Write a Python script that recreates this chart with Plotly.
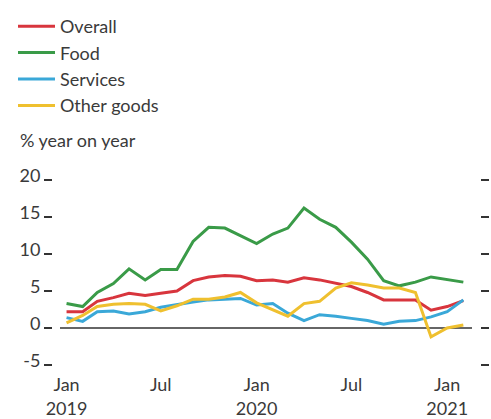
import plotly.graph_objects as go

# Monthly observations, Jan 2019 - Feb 2021
months = [
    "2019-01-01", "2019-02-01", "2019-03-01", "2019-04-01", "2019-05-01", "2019-06-01",
    "2019-07-01", "2019-08-01", "2019-09-01", "2019-10-01", "2019-11-01", "2019-12-01",
    "2020-01-01", "2020-02-01", "2020-03-01", "2020-04-01", "2020-05-01", "2020-06-01",
    "2020-07-01", "2020-08-01", "2020-09-01", "2020-10-01", "2020-11-01", "2020-12-01",
    "2021-01-01", "2021-02-01",
]

# % year on year
overall = [2.2, 2.2, 3.6, 4.1, 4.7, 4.4, 4.7, 5.0, 6.4, 6.9, 7.1, 7.0, 6.4,
           6.5, 6.2, 6.8, 6.5, 6.0, 5.6, 4.8, 3.8, 3.8, 3.8, 2.4, 2.9, 3.7]
food = [3.3, 2.9, 4.8, 6.0, 8.0, 6.5, 7.9, 7.9, 11.7, 13.6, 13.5, 12.5, 11.4,
        12.7, 13.5, 16.2, 14.7, 13.6, 11.6, 9.3, 6.4, 5.7, 6.2, 6.9, 6.5, 6.2]
services = [1.4, 0.9, 2.2, 2.3, 1.9, 2.2, 2.8, 3.1, 3.5, 3.8, 3.9, 4.0, 3.1,
            3.3, 2.0, 1.0, 1.8, 1.6, 1.3, 1.0, 0.5, 0.9, 1.0, 1.5, 2.2, 3.8]
other_goods = [0.7, 1.7, 2.9, 3.2, 3.3, 3.2, 2.3, 3.0, 3.9, 3.9, 4.2, 4.8, 3.4,
               2.5, 1.6, 3.3, 3.6, 5.4, 6.1, 5.8, 5.4, 5.4, 4.8, -1.2, 0.0, 0.4]

series_names = ["Overall", "Food", "Services", "Other goods"]
series_colors = ["#d8353d", "#3a9b48", "#3aa8d8", "#efc02f"]

x_tick_vals = ["2019-01-01", "2019-07-01", "2020-01-01", "2020-07-01", "2021-01-01"]
x_tick_text = ["Jan<br>2019", "Jul", "Jan<br>2020", "Jul", "Jan<br>2021"]
y_tick_vals = [-5, 0, 5, 10, 15, 20]
y_tick_text = ["-5", "0", "5", "10", "15", "20"]

W, H = 491, 419
FONT = "Lato"
TEXT = "#3a3a3a"

fig = go.Figure()
for name, vals, col in zip(series_names, [overall, food, services, other_goods], series_colors):
    fig.add_trace(go.Scatter(
        x=months, y=vals, name=name, mode="lines",
        line=dict(color=col, width=3),
    ))

# zero baseline
fig.add_shape(type="line", xref="paper", yref="y",
              x0=60 / W, x1=472 / W, y0=0, y1=0,
              line=dict(color="#333333", width=1.5), layer="below")

fig.add_annotation(text="% year on year", xref="paper", yref="paper",
                   x=18 / W, y=1 - 140 / H, xanchor="left", yanchor="middle",
                   showarrow=False, font=dict(family=FONT, size=18, color=TEXT))

fig.update_layout(
    width=W, height=H,
    margin=dict(l=0, r=0, t=0, b=0),
    paper_bgcolor="white", plot_bgcolor="white",
    font=dict(family=FONT, size=18, color=TEXT),
    showlegend=True,
    legend=dict(x=13 / W, y=1 - 8 / H, xanchor="left", yanchor="top",
                bgcolor="rgba(0,0,0,0)", font=dict(family=FONT, size=18, color=TEXT),
                tracegroupgap=0, itemwidth=37),
    xaxis=dict(
        domain=[53 / W, 480 / W],
        range=["2018-12-06", "2021-03-05"],
        tickvals=x_tick_vals, ticktext=x_tick_text,
        showgrid=False, zeroline=False, showline=False, ticks="",
        tickfont=dict(family=FONT, size=18, color=TEXT),
        automargin=False,
    ),
    yaxis=dict(
        domain=[1 - 372.4 / H, 1 - 172.6 / H],
        range=[-6, 21],
        tickvals=y_tick_vals, ticktext=y_tick_text,
        showgrid=False, zeroline=False, showline=False,
        ticks="outside", ticklen=8, tickwidth=1.5, tickcolor="#333333",
        mirror="ticks",
        ticklabelshift=-4, ticklabelstandoff=0,
        tickfont=dict(family=FONT, size=18, color=TEXT),
        automargin=False,
    ),
)

fig.write_html("out.html")
